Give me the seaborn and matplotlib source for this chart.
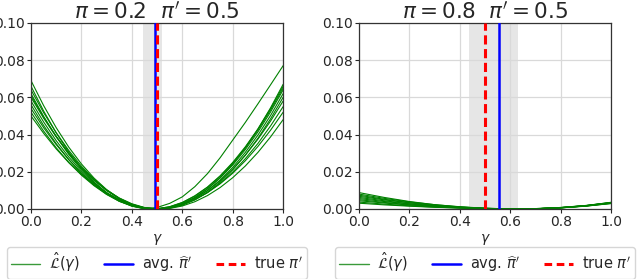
import numpy as np
import pandas as pd
import matplotlib
matplotlib.use("Agg")
import matplotlib.pyplot as plt
import seaborn as sns
from matplotlib.lines import Line2D

gamma_left = [0.00, 0.05, 0.10, 0.15, 0.20, 0.25, 0.30, 0.35, 0.40, 0.45, 0.50,
              0.55, 0.60, 0.65, 0.70, 0.75, 0.80, 0.85, 0.90, 0.95, 1.00]

# Left panel: pi = 0.2, pi' = 0.5
left_curves = [
    [.0690, .0556, .0437, .0332, .0242, .0166, .0104, .0056, .0023, .0005, .0000,
     .0009, .0030, .0063, .0109, .0166, .0236, .0319, .0414, .0521, .0640],
    [.0660, .0527, .0409, .0306, .0218, .0145, .0086, .0043, .0015, .0001, .0008,
     .0030, .0065, .0120, .0190, .0275, .0370, .0465, .0565, .0667, .0770],
    [.0640, .0518, .0410, .0314, .0230, .0160, .0102, .0058, .0026, .0006, .0000,
     .0006, .0025, .0056, .0099, .0155, .0223, .0304, .0397, .0502, .0620],
    [.0620, .0498, .0389, .0293, .0211, .0142, .0087, .0046, .0017, .0002, .0001,
     .0012, .0035, .0071, .0118, .0178, .0250, .0334, .0430, .0539, .0660],
    [.0600, .0488, .0388, .0299, .0222, .0156, .0102, .0059, .0028, .0008, .0000,
     .0004, .0020, .0049, .0090, .0144, .0210, .0289, .0380, .0484, .0600],
    [.0580, .0468, .0367, .0279, .0203, .0139, .0087, .0047, .0020, .0004, .0000,
     .0008, .0027, .0057, .0098, .0151, .0214, .0289, .0375, .0472, .0580],
    [.0560, .0449, .0351, .0265, .0190, .0129, .0079, .0041, .0016, .0002, .0001,
     .0012, .0034, .0069, .0116, .0175, .0246, .0329, .0424, .0531, .0650],
    [.0540, .0437, .0346, .0265, .0194, .0135, .0086, .0049, .0022, .0005, .0000,
     .0006, .0022, .0050, .0088, .0138, .0198, .0270, .0352, .0446, .0550],
    [.0520, .0419, .0329, .0250, .0182, .0125, .0078, .0042, .0018, .0003, .0000,
     .0007, .0024, .0051, .0088, .0135, .0192, .0259, .0336, .0423, .0520],
    [.0500, .0407, .0323, .0249, .0185, .0130, .0085, .0049, .0023, .0007, .0000,
     .0003, .0016, .0039, .0072, .0115, .0168, .0231, .0304, .0387, .0480],
    [.0610, .0494, .0390, .0299, .0220, .0153, .0098, .0055, .0024, .0006, .0000,
     .0007, .0027, .0060, .0107, .0168, .0241, .0328, .0429, .0543, .0670],
]
left_avg_pi = 0.49
left_true_pi = 0.50
left_band = (0.445, 0.52)

gamma_right = [0.0, 0.1, 0.2, 0.3, 0.4, 0.5, 0.6, 0.7, 0.8, 0.9, 1.0]

# Right panel: pi = 0.8, pi' = 0.5
right_curves = [
    [.0088, .0062, .0040, .0023, .0011, .0003, .0000, .0002, .0008, .0018, .0034],
    [.0080, .0057, .0038, .0023, .0012, .0004, .0000, .0001, .0006, .0016, .0032],
    [.0074, .0052, .0034, .0020, .0009, .0003, .0000, .0002, .0008, .0019, .0035],
    [.0068, .0049, .0033, .0020, .0010, .0004, .0000, .0001, .0006, .0015, .0030],
    [.0062, .0044, .0028, .0017, .0008, .0002, .0000, .0001, .0007, .0018, .0033],
    [.0056, .0040, .0027, .0016, .0008, .0003, .0000, .0001, .0007, .0018, .0036],
    [.0050, .0035, .0023, .0013, .0006, .0002, .0000, .0001, .0007, .0017, .0031],
    [.0044, .0032, .0021, .0013, .0007, .0002, .0000, .0001, .0006, .0017, .0034],
    [.0037, .0026, .0017, .0010, .0005, .0001, .0000, .0001, .0007, .0016, .0029],
    [.0031, .0022, .0015, .0009, .0005, .0002, .0000, .0001, .0006, .0017, .0033],
]
right_avg_pi = 0.557
right_true_pi = 0.50
right_band = (0.437, 0.63)

titles = [r"$\pi=0.2\ \ \pi'=0.5$", r"$\pi=0.8\ \ \pi'=0.5$"]
legend_labels = [r"$\hat{\mathcal{L}}(\gamma)$", r"avg. $\widehat{\pi}'$", r"true $\pi'$"]
xtick_vals = [0.0, 0.2, 0.4, 0.6, 0.8, 1.0]
ytick_vals = [0.00, 0.02, 0.04, 0.06, 0.08, 0.10]
ytick_labels = ["0.00", "0.02", "0.04", "0.06", "0.08", "0.10"]

sns.set_style("ticks")
plt.rcParams['font.family'] = ['DejaVu Sans']
plt.rcParams['mathtext.fontset'] = 'dejavusans'

fig = plt.figure(figsize=(6.4, 2.79), dpi=100)
axes = [fig.add_axes([0.0484, 0.251, 0.394, 0.667]),
        fig.add_axes([0.561, 0.251, 0.394, 0.667])]

panels = [
    (gamma_left, left_curves, left_avg_pi, left_true_pi, left_band),
    (gamma_right, right_curves, right_avg_pi, right_true_pi, right_band),
]

for ax, (gam, curves, avg_pi, true_pi, band), title in zip(axes, panels, titles):
    rows = []
    for i, c in enumerate(curves):
        for g, v in zip(gam, c):
            rows.append({"gamma": g, "loss": v, "run": i})
    df = pd.DataFrame(rows)
    ax.axvspan(band[0], band[1], color="#e6e6e6", zorder=0, lw=0)
    sns.lineplot(data=df, x="gamma", y="loss", hue="run",
                 palette=["green"] * len(curves), legend=False,
                 linewidth=0.8, ax=ax, zorder=2)
    ax.axvline(avg_pi, color="blue", lw=1.8, zorder=3)
    ax.axvline(true_pi, color="red", lw=2.2, ls=(0, (3, 1.5)), zorder=4)
    ax.set_xlim(0, 1)
    ax.set_ylim(0, 0.1)
    ax.set_xticks(xtick_vals)
    ax.set_yticks(ytick_vals)
    ax.set_yticklabels(ytick_labels)
    ax.grid(True, color="#d9d9d9", lw=0.9, zorder=0)
    ax.set_axisbelow(True)
    ax.tick_params(labelsize=10, length=3, pad=1.5)
    ax.set_xlabel(r"$\gamma$", fontsize=10, labelpad=2)
    ax.set_ylabel("")
    ax.set_title(title, fontsize=15.5, pad=2)
    for s in ax.spines.values():
        s.set_color("#333333")
        s.set_linewidth(0.9)
    handles = [Line2D([], [], color="#3a9a3a", lw=1.0),
               Line2D([], [], color="blue", lw=1.8),
               Line2D([], [], color="red", lw=2.2, ls=(0, (2.5, 1.5)))]
    ax.legend(handles, legend_labels, loc="upper center",
              bbox_to_anchor=(0.5, -0.205), borderaxespad=0, ncol=3,
              fontsize=10.5, frameon=True, handlelength=2.0,
              handletextpad=0.6, columnspacing=1.65, borderpad=0.3)

fig.savefig("out.png", dpi=100)
